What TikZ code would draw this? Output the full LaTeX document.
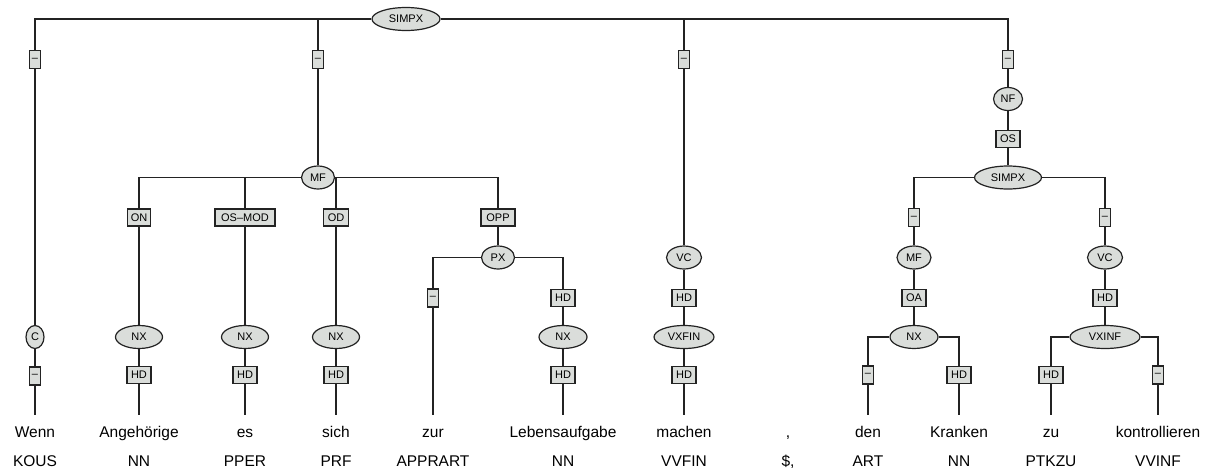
\documentclass[tikz,border=0pt]{standalone}
\usepackage{fontspec}
\setmainfont{Liberation Sans}
\usetikzlibrary{shapes.geometric}
\definecolor{nfill}{RGB}{218,221,218}
\definecolor{nline}{RGB}{35,35,35}
\tikzset{
  cat/.style={ellipse, draw=nline, line width=1.2pt, fill=nfill, inner sep=0pt, minimum height=23pt, font=\fontsize{11}{12}\selectfont},
  lab/.style={rectangle, draw=nline, line width=1.2pt, fill=nfill, inner sep=0pt, minimum height=17pt, minimum width=24pt, font=\fontsize{11}{12}\selectfont},
  dbox/.style={lab, minimum width=11pt, minimum height=18pt},
  word/.style={anchor=base, inner xsep=0pt, inner ysep=10.5pt, text height=11pt, text depth=3pt, font=\fontsize{15.5}{18}\selectfont},
  postag/.style={anchor=base, inner sep=0pt, font=\fontsize{15.5}{18}\selectfont},
  edge/.style={draw=nline, line width=1.2pt}
}
\begin{document}
\begin{tikzpicture}[x=1pt,y=-1pt]
\useasboundingbox (0,0) rectangle (1207,471);
% root
\node[cat, minimum width=68pt] (root) at (406,19) {SIMPX};
\node[dbox] (t1) at (35,59.5) {–};
\node[dbox] (t2) at (318,59.5) {–};
\node[dbox] (t3) at (684,59.5) {–};
\node[dbox] (t4) at (1008,59.5) {–};
% column Wenn
\node[cat, minimum width=18pt] (c) at (35,337) {C};
\node[dbox] (cd) at (35,376) {–};
% MF
\node[cat, minimum width=33pt] (mf) at (318,177.5) {MF};
\node[lab, minimum width=23pt] (on) at (139,217.5) {ON};
\node[lab, minimum width=60pt] (osmod) at (245,217.5) {OS–MOD};
\node[lab, minimum width=25pt] (od) at (336,217.5) {OD};
\node[lab, minimum width=34pt] (opp) at (498,217.5) {OPP};
\node[cat, minimum width=47pt] (nx1) at (139,337) {NX};
\node[cat, minimum width=47pt] (nx2) at (245,337) {NX};
\node[cat, minimum width=47pt] (nx3) at (336,337) {NX};
\node[lab] (hd1) at (139,375) {HD};
\node[lab] (hd2) at (245,375) {HD};
\node[lab] (hd3) at (336,375) {HD};
\node[cat, minimum width=33pt] (px) at (498,257.5) {PX};
\node[dbox] (pxd) at (433,298) {–};
\node[lab] (pxhd) at (563,298) {HD};
\node[cat, minimum width=48pt] (nx4) at (563,337) {NX};
\node[lab] (hd4) at (563,375) {HD};
% VC
\node[cat, minimum width=35pt] (vc) at (684,257.5) {VC};
\node[lab] (vchd) at (684,298) {HD};
\node[cat, minimum width=60pt] (vxfin) at (684,337) {VXFIN};
\node[lab] (vfhd) at (684,375) {HD};
% NF
\node[cat, minimum width=29pt] (nf) at (1008,99) {NF};
\node[lab] (os) at (1008,139) {OS};
\node[cat, minimum width=67pt] (simpx2) at (1008,177.5) {SIMPX};
\node[dbox] (sd1) at (914,217.5) {–};
\node[dbox] (sd2) at (1105,217.5) {–};
\node[cat, minimum width=34pt] (mf2) at (914,257.5) {MF};
\node[lab] (oa) at (914,298) {OA};
\node[cat, minimum width=48pt] (nx5) at (914,337) {NX};
\node[dbox] (nd) at (868,375) {–};
\node[lab] (nhd) at (959,375) {HD};
\node[cat, minimum width=35pt] (vc2) at (1105,257.5) {VC};
\node[lab] (vc2hd) at (1105,298) {HD};
\node[cat, minimum width=70pt] (vxinf) at (1105,337) {VXINF};
\node[lab] (vihd) at (1051,375) {HD};
\node[dbox] (vid) at (1158,375) {–};
% words
\node[word] (w1) at (35,437) {Wenn};
\node[word] (w2) at (139,437) {Angehörige};
\node[word] (w3) at (245,437) {es};
\node[word] (w4) at (336,437) {sich};
\node[word] (w5) at (433,437) {zur};
\node[word] (w6) at (563,437) {Lebensaufgabe};
\node[word] (w7) at (684,437) {machen};
\node[word] (w8) at (788,437) {,};
\node[word] (w9) at (868,437) {den};
\node[word] (w10) at (959,437) {Kranken};
\node[word] (w11) at (1051,437) {zu};
\node[word] (w12) at (1158,437) {kontrollieren};
% POS
\node[postag] (p1) at (35,466) {KOUS};
\node[postag] (p2) at (139,466) {NN};
\node[postag] (p3) at (245,466) {PPER};
\node[postag] (p4) at (336,466) {PRF};
\node[postag] (p5) at (433,466) {APPRART};
\node[postag] (p6) at (563,466) {NN};
\node[postag] (p7) at (684,466) {VVFIN};
\node[postag] (p8) at (788,466) {\$,};
\node[postag] (p9) at (868,466) {ART};
\node[postag] (p10) at (959,466) {NN};
\node[postag] (p11) at (1051,466) {PTKZU};
\node[postag] (p12) at (1158,466) {VVINF};
% edges
\path[edge] (root) -| (t1);
\path[edge] (root) -| (t2);
\path[edge] (root) -| (t3);
\path[edge] (root) -| (t4);
\path[edge] (t1) -- (c) -- (cd) -- (w1);
\path[edge] (t2) -- (mf);
\path[edge] (mf) -| (on);
\path[edge] (mf) -| (osmod);
\path[edge] (mf) -| (od);
\path[edge] (mf) -| (opp);
\path[edge] (on) -- (nx1) -- (hd1) -- (w2);
\path[edge] (osmod) -- (nx2) -- (hd2) -- (w3);
\path[edge] (od) -- (nx3) -- (hd3) -- (w4);
\path[edge] (opp) -- (px);
\path[edge] (px) -| (pxd);
\path[edge] (px) -| (pxhd);
\path[edge] (pxd) -- (w5);
\path[edge] (pxhd) -- (nx4) -- (hd4) -- (w6);
\path[edge] (t3) -- (vc) -- (vchd) -- (vxfin) -- (vfhd) -- (w7);
\path[edge] (t4) -- (nf) -- (os) -- (simpx2);
\path[edge] (simpx2) -| (sd1);
\path[edge] (simpx2) -| (sd2);
\path[edge] (sd1) -- (mf2) -- (oa) -- (nx5);
\path[edge] (nx5) -| (nd);
\path[edge] (nx5) -| (nhd);
\path[edge] (nd) -- (w9);
\path[edge] (nhd) -- (w10);
\path[edge] (sd2) -- (vc2) -- (vc2hd) -- (vxinf);
\path[edge] (vxinf) -| (vihd);
\path[edge] (vxinf) -| (vid);
\path[edge] (vihd) -- (w11);
\path[edge] (vid) -- (w12);
\end{tikzpicture}
\end{document}
